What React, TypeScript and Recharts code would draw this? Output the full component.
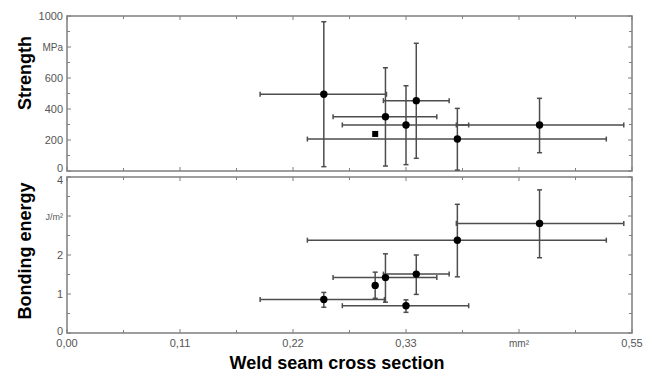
import { ScatterChart, Scatter, XAxis, YAxis, ErrorBar, ReferenceArea } from "recharts";

// weld seam cross section (mm²)
const xTicks = [0, 0.055, 0.11, 0.165, 0.22, 0.275, 0.33, 0.385, 0.44, 0.495, 0.55];
const xTickLabels = ["0,00", "", "0,11", "", "0,22", "", "0,33", "", "mm²", "", "0,55"];

const strengthTicks = [0, 100, 200, 300, 400, 500, 600, 700, 800, 900, 1000];
const strengthTickLabels = ["0", "", "200", "", "400", "", "600", "", "MPa", "", "1000"];

const energyTicks = [0, 0.5, 1, 1.5, 2, 2.5, 3, 3.5, 4];
const energyTickLabels = ["0", "", "1", "", "2", "", "J/m²", "", "4"];

// strength panel
const strengthX = [0.25, 0.31, 0.33, 0.34, 0.38, 0.46];
const strengthXLow = [0.188, 0.259, 0.268, 0.308, 0.234, 0.379];
const strengthXHigh = [0.311, 0.36, 0.391, 0.372, 0.525, 0.542];
const strengthY = [495, 350, 297, 454, 206, 297];
const strengthYLow = [28, 32, 41, 82, 6, 118];
const strengthYHigh = [963, 666, 550, 824, 404, 469];

// single point without error bars (square marker)
const squareX = [0.3];
const squareY = [239];

// bonding energy panel
const energyX = [0.25, 0.3, 0.31, 0.33, 0.34, 0.38, 0.46];
const energyXLow = [0.188, null, 0.259, 0.268, 0.308, 0.234, 0.379];
const energyXHigh = [0.309, null, 0.36, 0.391, 0.372, 0.525, 0.542];
const energyY = [0.86, 1.22, 1.42, 0.7, 1.51, 2.38, 2.81];
const energyYLow = [0.66, 0.89, 0.79, 0.53, 0.99, 1.44, 1.93];
const energyYHigh = [1.04, 1.56, 2.03, 0.85, 2.0, 3.3, 3.67];

const W = 655;
const LEFT = 67;
const RIGHT = 23;
const PLOT_W = W - LEFT - RIGHT;
const TOP_H = 155; // strength plot height
const BOT_H = 156; // energy plot height

const FRAME = "#7f7f7f";
const BAR = "#4d4d4d";
const LABEL = "#555";
const FONT = "Arial, 'Liberation Sans', sans-serif";

const buildRows = (
  xs: number[],
  ys: number[],
  xl: (number | null)[],
  xh: (number | null)[],
  yl: number[],
  yh: number[],
) =>
  xs.map((x, i) => ({
    x,
    y: ys[i],
    ex: xl[i] == null ? null : [x - (xl[i] as number), (xh[i] as number) - x],
    ey: [ys[i] - yl[i], yh[i] - ys[i]],
  }));

const strengthRows = buildRows(strengthX, strengthY, strengthXLow, strengthXHigh, strengthYLow, strengthYHigh);
const energyRows = buildRows(energyX, energyY, energyXLow, energyXHigh, energyYLow, energyYHigh);
const squareRows = squareX.map((x, i) => ({ x, y: squareY[i] }));

const Dot = (p: any) => <circle cx={p.cx} cy={p.cy} r={3.7} fill="#000" />;
const Square = (p: any) => <rect x={p.cx - 3} y={p.cy - 3} width={6} height={6} fill="#000" />;

// dyMin / dyMax nudge the end labels where the two panels meet
const makeYTick = (ticks: number[], labels: string[], dyMin: number, dyMax: number) => (p: any) => {
  const i = ticks.indexOf(p.payload.value);
  const text = labels[i] ?? "";
  const len = text ? 4 : 3;
  const small = text === "MPa" || text === "J/m²";
  const dy = i === 0 ? dyMin : i === ticks.length - 1 ? dyMax : 4;
  return (
    <g>
      <line x1={p.x} x2={p.x + len} y1={p.y} y2={p.y} stroke={FRAME} strokeWidth={1} />
      <line x1={p.x + PLOT_W} x2={p.x + PLOT_W - len} y1={p.y} y2={p.y} stroke={FRAME} strokeWidth={1} />
      {text && (
        <text
          x={p.x - 4}
          y={p.y + dy}
          textAnchor="end"
          fill={LABEL}
          fontSize={small ? (text === "J/m²" ? 9 : 10) : 11}
          fontFamily={FONT}
        >
          {text}
        </text>
      )}
    </g>
  );
};

const makeXTick = (plotH: number, showLabels: boolean) => (p: any) => {
  const i = xTicks.indexOf(p.payload.value);
  const text = showLabels ? xTickLabels[i] ?? "" : "";
  const len = xTickLabels[i] ? 4 : 3;
  return (
    <g>
      <line x1={p.x} x2={p.x} y1={p.y} y2={p.y - len} stroke={FRAME} strokeWidth={1} />
      <line x1={p.x} x2={p.x} y1={p.y - plotH} y2={p.y - plotH + len} stroke={FRAME} strokeWidth={1} />
      {text && (
        <text
          x={p.x}
          y={p.y + 14}
          textAnchor="middle"
          fill={LABEL}
          fontSize={text === "mm²" ? 10 : 11}
          fontFamily={FONT}
        >
          {text}
        </text>
      )}
    </g>
  );
};

const axisTitle = (text: string, cx: number, cy: number, rotate: boolean) => (
  <div
    style={{
      position: "absolute",
      left: cx,
      top: cy,
      transform: `translate(-50%, -50%)${rotate ? " rotate(-90deg)" : ""}`,
      whiteSpace: "nowrap",
      fontFamily: FONT,
      fontWeight: "bold",
      fontSize: 18,
      lineHeight: 1,
      color: "#000",
    }}
  >
    {text}
  </div>
);

export default function App() {
  return (
    <div style={{ position: "absolute", left: 0, top: 0, width: W, height: 374, background: "#fff" }}>
      <div style={{ position: "absolute", left: 0, top: 0 }}>
        <ScatterChart width={W} height={178} margin={{ top: 16, right: RIGHT, bottom: 0, left: 0 }}>
          <XAxis
            type="number"
            dataKey="x"
            domain={[0, 0.55]}
            ticks={xTicks}
            interval={0}
            allowDataOverflow
            height={7}
            axisLine={false}
            tickLine={false}
            tickSize={0}
            tickMargin={0}
            tick={makeXTick(TOP_H, false)}
          />
          <YAxis
            type="number"
            dataKey="y"
            domain={[0, 1000]}
            ticks={strengthTicks}
            interval={0}
            allowDataOverflow
            width={LEFT}
            axisLine={false}
            tickLine={false}
            tickSize={0}
            tickMargin={0}
            tick={makeYTick(strengthTicks, strengthTickLabels, 1, 4)}
          />
          <ReferenceArea x1={0} x2={0.55} y1={0} y2={1000} fill="#fff" fillOpacity={0} stroke={FRAME} strokeWidth={1.5} ifOverflow="visible" />
          <Scatter data={strengthRows} shape={Dot} isAnimationActive={false}>
            <ErrorBar dataKey="ex" direction="x" width={2.5} stroke={BAR} strokeWidth={1.5} />
            <ErrorBar dataKey="ey" direction="y" width={2.5} stroke={BAR} strokeWidth={1.5} />
          </Scatter>
          <Scatter data={squareRows} shape={Square} isAnimationActive={false} />
        </ScatterChart>
      </div>
      <div style={{ position: "absolute", left: 0, top: 0 }}>
        <ScatterChart width={W} height={374} margin={{ top: 177, right: RIGHT, bottom: 0, left: 0 }}>
          <XAxis
            type="number"
            dataKey="x"
            domain={[0, 0.55]}
            ticks={xTicks}
            interval={0}
            allowDataOverflow
            height={41}
            axisLine={false}
            tickLine={false}
            tickSize={0}
            tickMargin={0}
            tick={makeXTick(BOT_H, true)}
          />
          <YAxis
            type="number"
            dataKey="y"
            domain={[0, 4]}
            ticks={energyTicks}
            interval={0}
            allowDataOverflow
            width={LEFT}
            axisLine={false}
            tickLine={false}
            tickSize={0}
            tickMargin={0}
            tick={makeYTick(energyTicks, energyTickLabels, 2, 7)}
          />
          <ReferenceArea x1={0} x2={0.55} y1={0} y2={4} fill="#fff" fillOpacity={0} stroke={FRAME} strokeWidth={1.5} ifOverflow="visible" />
          <Scatter data={energyRows} shape={Dot} isAnimationActive={false}>
            <ErrorBar dataKey="ex" direction="x" width={2.5} stroke={BAR} strokeWidth={1.5} />
            <ErrorBar dataKey="ey" direction="y" width={2.5} stroke={BAR} strokeWidth={1.5} />
          </Scatter>
        </ScatterChart>
      </div>
      {axisTitle("Strength", 25, 73, true)}
      {axisTitle("Bonding energy", 25, 251, true)}
      {axisTitle("Weld seam cross section", 337, 363, false)}
    </div>
  );
}
